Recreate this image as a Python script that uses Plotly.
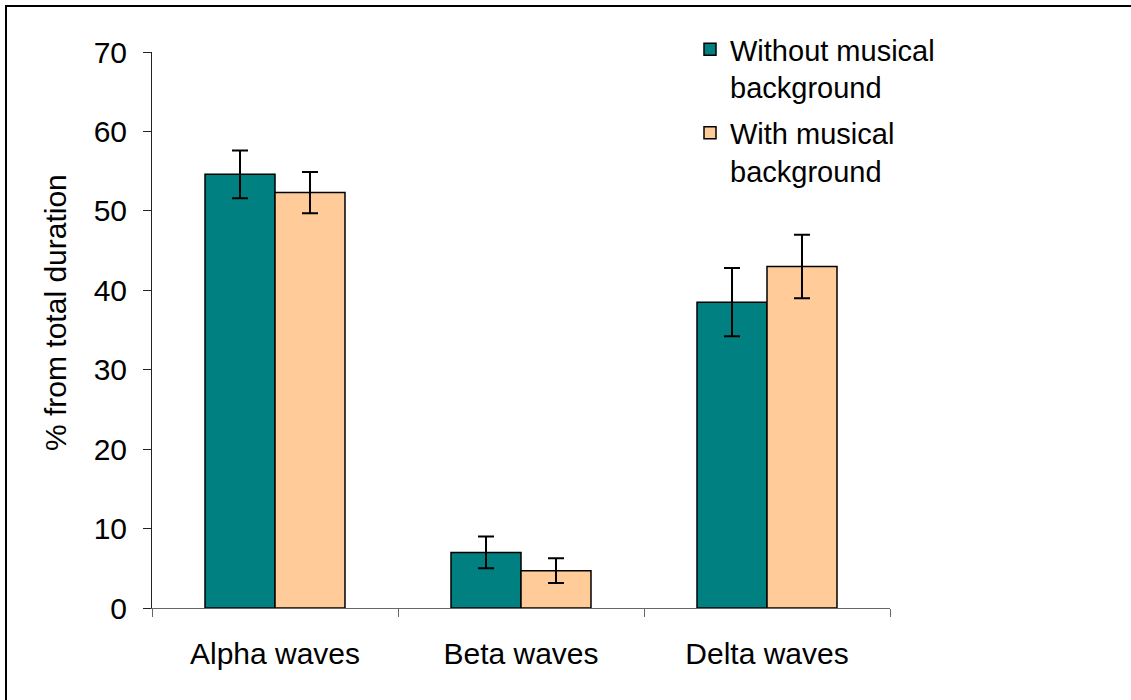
import plotly.graph_objects as go

categories = ["Alpha waves", "Beta waves", "Delta waves"]
without_bg = [54.6, 7.0, 38.5]
without_err = [3.0, 2.0, 4.3]
with_bg = [52.3, 4.7, 43.0]
with_err = [2.6, 1.55, 4.0]
series_names = ["Without musical<br>background", "With musical<br>background"]
y_ticks = [0, 10, 20, 30, 40, 50, 60, 70]
y_title = "% from total duration"

# body margin is removed below, so screen pixels == figure pixels
W, H = 1131, 700
L, R, T, B = 152, 890, 52, 608
pw, ph = R - L, B - T

def px(sx):
    return (sx - L) / pw

def py(sy):
    return (B - sy) / ph

fig = go.Figure()
fig.add_trace(go.Bar(
    x=categories, y=without_bg, name=series_names[0], legendgroup="a",
    marker=dict(color="#008080", line=dict(color="black", width=1.5)),
    error_y=dict(type="data", array=without_err, color="black", thickness=2, width=8),
))
fig.add_trace(go.Bar(
    x=categories, y=with_bg, name=series_names[1], legendgroup="b",
    marker=dict(color="#FFCC99", line=dict(color="black", width=1.5)),
    error_y=dict(type="data", array=with_err, color="black", thickness=2, width=8),
))

font = "Liberation Sans, Arial, sans-serif"
fig.update_layout(
    width=W, height=H,
    margin=dict(l=L, r=W - R, t=T, b=H - B, autoexpand=False),
    paper_bgcolor="white", plot_bgcolor="white",
    barmode="group", bargap=0.431, bargroupgap=0,
    font=dict(family=font, size=30, color="black"),
    showlegend=True,
    legend=dict(x=px(690), y=py(24), xanchor="left", yanchor="top",
                bgcolor="rgba(0,0,0,0)", valign="top", traceorder="grouped",
                tracegroupgap=5, font=dict(size=29)),
    xaxis=dict(showline=True, linecolor="#666666", linewidth=1,
               ticks="outside", tickson="boundaries", ticklen=8, tickcolor="#666666",
               showgrid=False, zeroline=False, tickfont=dict(size=30),
               ticklabelstandoff=19),
    yaxis=dict(range=[0, 70], tickvals=y_ticks, showline=True, linecolor="#222222",
               linewidth=1, ticks="outside", ticklen=8, tickcolor="#222222",
               showgrid=False, zeroline=False, tickfont=dict(size=30),
               ticklabelstandoff=10),
    annotations=[dict(text=y_title, textangle=-90, xref="paper", yref="paper",
                      x=px(55), y=py(313), xanchor="center", yanchor="middle",
                      showarrow=False, font=dict(size=30))],
    shapes=[dict(type="rect", xref="paper", yref="paper",
                 x0=px(6), x1=px(1140), y0=py(712), y1=py(6),
                 line=dict(color="black", width=2), layer="below")],
)

fig.write_html(
    "out.html",
    config={"displayModeBar": False},
    post_script="document.body.style.margin='0';document.body.style.padding='0';",
)
